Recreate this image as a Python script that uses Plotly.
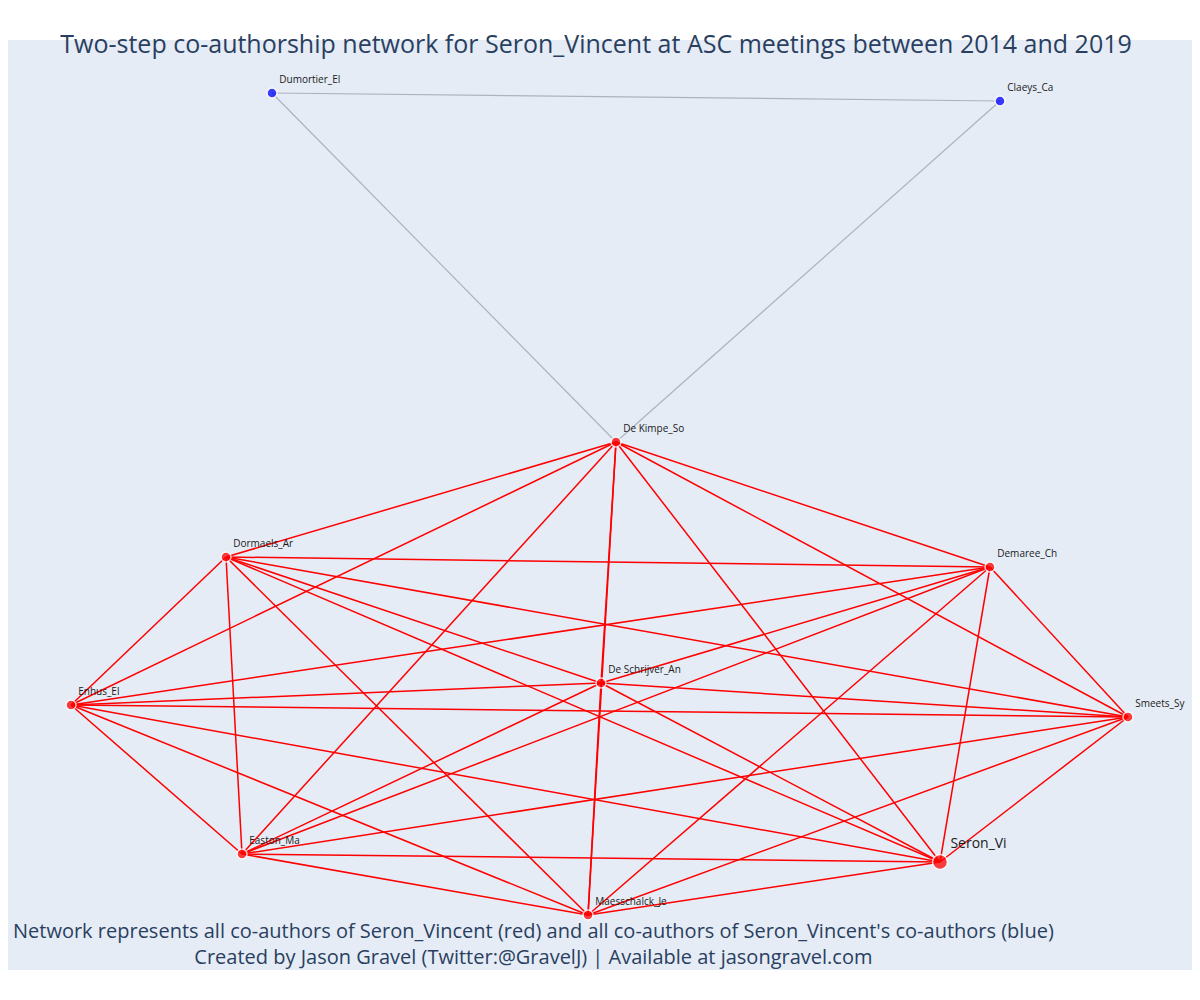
import itertools

import plotly.graph_objs as go

# node positions (pixel-like units, y up)
names = ['Dumortier_El', 'Claeys_Ca', 'De Kimpe_So', 'Dormaels_Ar', 'Demaree_Ch',
         'De Schrijver_An', 'Enhus_El', 'Smeets_Sy', 'Easton_Ma', 'Seron_Vi',
         'Maesschalck_Je']
node_x = [264, 992, 608, 218, 982, 593, 63, 1120, 234, 932, 580]
node_y = [877, 869, 528, 413, 403, 287, 265, 253, 116, 108, 55]
groups = ['blue', 'blue', 'red', 'red', 'red', 'red', 'red', 'red', 'red', 'red', 'red']

ego = 'Seron_Vi'
second_step_edges = [('Dumortier_El', 'Claeys_Ca'), ('Dumortier_El', 'De Kimpe_So'),
                     ('Claeys_Ca', 'De Kimpe_So')]
red_names = [n for n, g in zip(names, groups) if g == 'red']
first_step_edges = list(itertools.combinations(red_names, 2))

pos = {n: (x, y) for n, x, y in zip(names, node_x, node_y)}


def edge_xy(edges):
    ex, ey = [], []
    for a, b in edges:
        ex += [pos[a][0], pos[b][0], None]
        ey += [pos[a][1], pos[b][1], None]
    return ex, ey


fig = go.Figure()

ex, ey = edge_xy(second_step_edges)
fig.add_trace(go.Scatter(x=ex, y=ey, mode='lines', hoverinfo='none',
                         line=dict(color='#aeb2bf', width=1.2)))
ex, ey = edge_xy(first_step_edges)
fig.add_trace(go.Scatter(x=ex, y=ey, mode='lines', hoverinfo='none',
                         line=dict(color='red', width=1.5)))

for grp, col in [('blue', 'blue'), ('red', 'red')]:
    idx = [i for i, g in enumerate(groups) if g == grp]
    fig.add_trace(go.Scatter(
        x=[node_x[i] for i in idx], y=[node_y[i] for i in idx],
        mode='markers+text', text=[names[i] for i in idx],
        textposition='top right',
        textfont=dict(size=[14 if names[i] == ego else 10 for i in idx],
                      color='#1a1a1a'),
        marker=dict(color=col, opacity=0.75,
                    size=[15 if names[i] == ego else 10 for i in idx],
                    line=dict(color='white', width=1.5)),
        hoverinfo='text'))

fig.update_layout(
    width=1187, height=992,
    margin=dict(l=0, r=0, t=32, b=30),
    showlegend=False,
    plot_bgcolor='#E5ECF6', paper_bgcolor='white',
    font=dict(family='Open Sans', color='#2a3f5f'),
    title=dict(text='Two-step co-authorship network for Seron_Vincent at ASC meetings between 2014 and 2019',
               x=0.4954, xanchor='center', y=0.963, yanchor='middle',
               font=dict(size=25, color='#2a3f5f')),
    xaxis=dict(range=[0, 1187], showgrid=False, zeroline=False, showticklabels=False),
    yaxis=dict(range=[0, 930], showgrid=False, zeroline=False, showticklabels=False),
    annotations=[dict(
        text="Network represents all co-authors of Seron_Vincent (red) and all co-authors of Seron_Vincent's co-authors (blue)"
             "<br>Created by Jason Gravel (Twitter:@GravelJ) | Available at jasongravel.com",
        xref='paper', yref='paper', x=0.4427, y=0.028, xanchor='center', yanchor='middle',
        showarrow=False, font=dict(size=20, color='#2a3f5f'))],
)

fig.write_html("out.html")
